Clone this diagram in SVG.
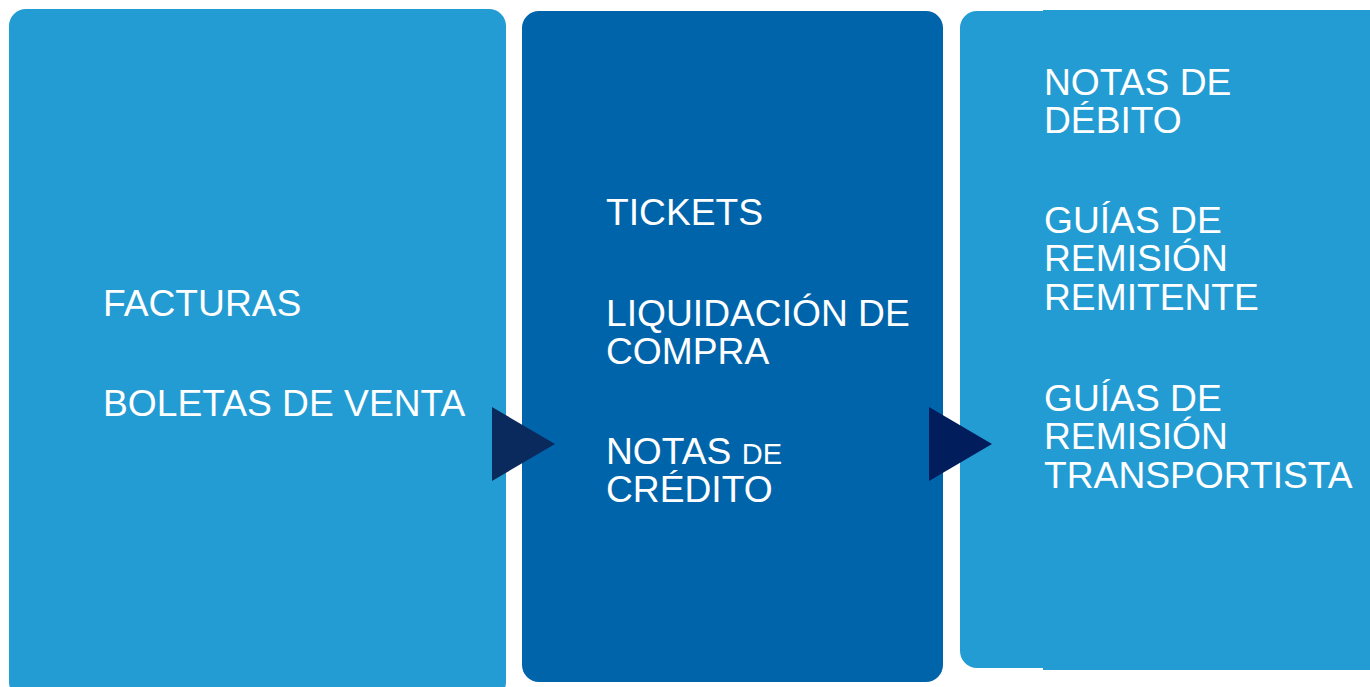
<svg xmlns="http://www.w3.org/2000/svg" width="1370" height="687" viewBox="0 0 1370 687">
<style>
.light{fill:#239CD3}
.dark{fill:#0064AA}
.t{font-family:"Liberation Sans",Arial,sans-serif;font-size:37.2px;fill:#FFFFFF}
.s{font-size:29px}
</style>
<rect width="1370" height="687" fill="#FFFFFF"/>
<g id="box1">
<rect class="light" x="9" y="9" width="497" height="690" rx="17"/>
<text class="t" x="103" y="316">FACTURAS</text>
<text class="t" x="103" y="416">BOLETAS DE VENTA</text>
</g>
<g id="box2">
<rect class="dark" x="522" y="11" width="421" height="671" rx="17"/>
<text class="t" x="606" y="225">TICKETS</text>
<text class="t" x="606" y="326">LIQUIDACIÓN DE</text>
<text class="t" x="606" y="364">COMPRA</text>
<text class="t" x="606" y="464">NOTAS <tspan class="s">DE</tspan></text>
<text class="t" x="606" y="502">CRÉDITO</text>
</g>
<g id="box3">
<rect class="light" x="960" y="11" width="430" height="657" rx="17"/>
<rect class="light" x="1043" y="10" width="327" height="660"/>
<text class="t" x="1044" y="95">NOTAS DE</text>
<text class="t" x="1044" y="133">DÉBITO</text>
<text class="t" x="1044" y="233">GUÍAS DE</text>
<text class="t" x="1044" y="271">REMISIÓN</text>
<text class="t" x="1044" y="310">REMITENTE</text>
<text class="t" x="1044" y="411">GUÍAS DE</text>
<text class="t" x="1044" y="449">REMISIÓN</text>
<text class="t" x="1044" y="488">TRANSPORTISTA</text>
</g>
<g id="connectors">
<polygon points="492,407 555,444 492,481" fill="#0A2A5E"/>
<polygon points="929,407 992,444 929,481" fill="#021D5C"/>
</g>
</svg>
